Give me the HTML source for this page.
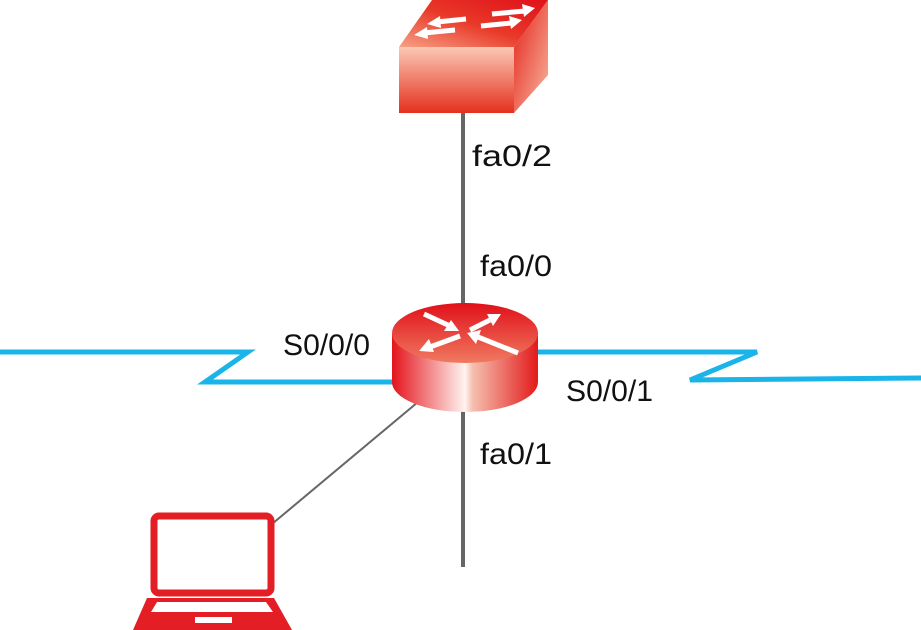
<!DOCTYPE html>
<html><head><style>
body{margin:0;background:#fff;width:921px;height:630px;overflow:hidden}
svg{display:block}
text{font-family:"Liberation Sans",sans-serif;font-size:30px;fill:#111}
</style></head><body>
<svg width="921" height="630" viewBox="0 0 921 630">
<defs>
<linearGradient id="cyl" x1="0" x2="1" y1="0" y2="0">
<stop offset="0" stop-color="#e4141c"/><stop offset="0.5" stop-color="#fff4f0"/><stop offset="0.55" stop-color="#f6c0b0"/><stop offset="1" stop-color="#e21a1a"/></linearGradient>
<linearGradient id="top" x1="0" x2="0" y1="0" y2="1">
<stop offset="0" stop-color="#e0101a"/><stop offset="1" stop-color="#f07a60"/></linearGradient>
<linearGradient id="front" x1="0" x2="0" y1="0" y2="1">
<stop offset="0" stop-color="#fbc8b4"/><stop offset="1" stop-color="#e4301e"/></linearGradient>
<linearGradient id="stop" x1="0" x2="1" y1="1" y2="0">
<stop offset="0" stop-color="#f7a084"/><stop offset="0.5" stop-color="#e83828"/><stop offset="1" stop-color="#e0101a"/></linearGradient>
<linearGradient id="side" x1="0" x2="1" y1="0" y2="1">
<stop offset="0" stop-color="#e42018"/><stop offset="1" stop-color="#f8b8a0"/></linearGradient>
</defs>
<line x1="463" y1="113" x2="463" y2="567" stroke="#666" stroke-width="4"/>
<line x1="418" y1="402" x2="272" y2="524" stroke="#666" stroke-width="2"/>
<polyline points="0,352 248,352 205,382 400,382" fill="none" stroke="#1ab4e8" stroke-width="5"/>
<polyline points="530,352 757,352 690,380 921,378" fill="none" stroke="#1ab4e8" stroke-width="5"/>
<!-- switch -->
<polygon points="399,47 432,0 548,0 514,47" fill="url(#stop)"/>
<polygon points="514,47 548,0 548,75 514,113" fill="url(#side)"/>
<rect x="399" y="47" width="115" height="66" fill="url(#front)"/>
<g stroke="#fff" stroke-width="5" fill="#fff">
<line x1="492" y1="14" x2="525" y2="11"/><polygon points="535,8 522,4 524,17" stroke="none"/>
<line x1="481" y1="26" x2="512" y2="23"/><polygon points="522,20 509,16 511,29" stroke="none"/>
<line x1="466" y1="19" x2="437" y2="22"/><polygon points="427,24 440,16 441,28" stroke="none"/>
<line x1="455" y1="30" x2="424" y2="33"/><polygon points="414,35 427,27 428,39" stroke="none"/>
</g>
<!-- router -->
<path d="M392,333 L392,382 A73,30 0 0 0 538,382 L538,333 Z" fill="url(#cyl)"/>
<ellipse cx="465" cy="333" rx="73" ry="30" fill="url(#top)"/>
<g stroke="#fff" stroke-width="5" fill="#fff">
<line x1="424" y1="314" x2="450" y2="326"/><polygon points="459,331 444,331 451,320" stroke="none"/>
<line x1="470" y1="330" x2="490" y2="320"/><polygon points="501,314 487,314 493,326" stroke="none"/>
<line x1="460" y1="336" x2="430" y2="347"/><polygon points="419,351 429,339 434,352" stroke="none"/>
<line x1="518" y1="353" x2="478" y2="337"/><polygon points="467,333 481,330 476,344" stroke="none"/>
</g>
<!-- laptop -->
<rect x="154" y="516" width="117" height="77" rx="5" fill="none" stroke="#e31e24" stroke-width="7"/>
<polygon points="147,598 274,598 292,630 133,630" fill="#e31e24"/>
<polygon points="157,602 266,602 273,612 151,612" fill="#fff"/>
<rect x="195" y="617" width="37" height="6" fill="#fff"/>
<text x="472" y="166" textLength="80" lengthAdjust="spacingAndGlyphs">fa0/2</text>
<text x="480" y="276" textLength="72" lengthAdjust="spacingAndGlyphs">fa0/0</text>
<text x="283" y="355" textLength="87" lengthAdjust="spacingAndGlyphs">S0/0/0</text>
<text x="566" y="401" textLength="87" lengthAdjust="spacingAndGlyphs">S0/0/1</text>
<text x="480" y="464" textLength="72" lengthAdjust="spacingAndGlyphs">fa0/1</text>
</svg>
</body></html>
